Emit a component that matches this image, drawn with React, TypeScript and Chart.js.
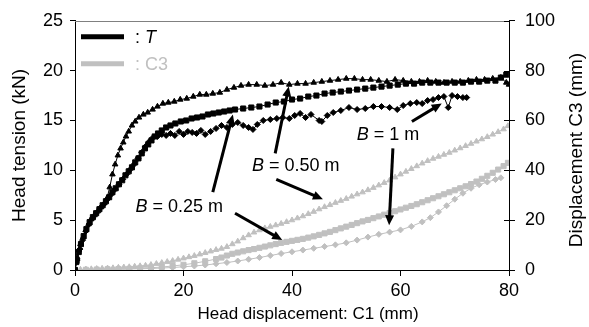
import React, { useEffect, useRef } from "react";
import { Chart, registerables } from "chart.js";

Chart.register(...registerables);

// ---------- data (x = head displacement C1 in mm) ----------
// Head tension T (kN), left axis
const T_B025: [number, number][] = [
  [0, 0], [0.3, 0.9], [0.7, 1.8], [1.1, 2.6], [1.6, 3.4], [2.1, 4.1], [2.7, 4.8], [3.3, 5.3], [3.9, 5.7], [4.5, 6.1],
  [5.1, 6.5], [5.7, 6.9], [6.3, 7.3], [6.9, 7.8], [7.5, 8.2], [8.1, 8.6], [8.7, 9.0], [9.3, 9.5], [9.9, 9.9], [10.5, 10.3],
  [11.1, 10.8], [11.7, 11.2], [12.3, 11.7], [12.9, 12.2], [13.5, 12.6], [14.1, 13.0], [14.7, 13.4], [15.3, 13.7], [16.0, 14.0],
  [16.8, 14.3], [17.6, 14.5], [18.5, 14.7], [19.5, 14.9], [20.5, 15.0], [21.5, 15.2], [22.5, 15.3], [23.5, 15.4], [24.5, 15.6],
  [25.5, 15.7], [26.5, 15.8], [27.5, 15.9], [28.5, 16.0], [29.5, 16.1], [31, 16.2], [32.5, 16.3], [34, 16.4], [35.5, 16.6],
  [37, 16.8], [38.5, 16.9], [40, 17.1], [41.5, 17.2], [43, 17.4], [44.5, 17.5], [46, 17.7], [47.5, 17.8], [49, 17.9],
  [50.5, 18.0], [52, 18.1], [53.5, 18.2], [55, 18.3], [56.5, 18.4], [58, 18.5], [59.5, 18.6], [61, 18.7], [62.5, 18.7],
  [64, 18.8], [65.5, 18.8], [67, 18.8], [68.5, 18.8], [70, 18.8], [71.5, 18.8], [73, 18.9], [74.5, 18.9], [76, 19.0],
  [77.5, 19.0], [78.5, 19.3], [79.5, 19.6],
];
const T_B050: [number, number][] = [
  [0, 0], [0.2, 0.7], [0.4, 1.3], [0.7, 2.0], [1.0, 2.6], [1.5, 3.3], [2.0, 4.0], [2.5, 4.6], [3.0, 5.1], [3.6, 5.5],
  [4.2, 5.9], [4.8, 6.3], [5.4, 6.7], [5.9, 7.2], [6.4, 8.3], [6.9, 9.6], [7.4, 10.6], [7.9, 11.5], [8.4, 12.2], [8.9, 12.8],
  [9.4, 13.4], [9.9, 13.9], [10.5, 14.5], [11.1, 14.9], [11.8, 15.3], [12.6, 15.6], [13.4, 15.8], [14.3, 16.1], [15.2, 16.4],
  [16.2, 16.7], [17.2, 16.8], [18.3, 16.9], [19.4, 17.1], [20.6, 17.2], [21.8, 17.4], [23.0, 17.6], [24.2, 17.6], [25.4, 17.7],
  [26.7, 17.8], [28.0, 18.1], [29.3, 18.3], [30.6, 18.5], [32, 18.6], [33.5, 18.6], [35, 18.5], [36.5, 18.6], [38, 18.8],
  [39.5, 18.6], [41, 18.7], [42.5, 18.7], [44, 18.8], [45.5, 18.9], [47, 19.0], [48.5, 19.1], [50, 19.2], [51.5, 19.2],
  [53, 19.1], [54.5, 19.1], [56, 19.0], [57.5, 18.9], [59, 19.1], [60.5, 19.0], [62, 18.9], [63.5, 18.9], [65, 19.0],
  [66.5, 18.9], [68, 18.8], [69.5, 18.9], [71, 18.9], [72.5, 19.0], [74, 19.1], [75.5, 19.1], [77, 19.2], [78.5, 19.3],
  [79.5, 18.8], [80, 18.6],
];
const T_B100: [number, number][] = [
  [0, 0], [0.4, 1.0], [0.9, 2.1], [1.4, 3.0], [2.0, 3.9], [2.6, 4.6], [3.2, 5.2], [3.9, 5.7], [4.6, 6.2], [5.3, 6.6],
  [6.0, 7.1], [6.7, 7.6], [7.4, 8.1], [8.1, 8.6], [8.8, 9.1], [9.5, 9.6], [10.2, 10.1], [10.9, 10.6], [11.6, 11.2],
  [12.3, 11.8], [13.0, 12.4], [13.7, 12.9], [14.4, 13.3], [15.2, 13.4], [16.0, 13.6], [16.8, 13.5], [17.6, 13.7],
  [18.4, 13.5], [19.2, 13.9], [20.0, 13.6], [20.8, 13.9], [21.6, 13.8], [22.4, 13.7], [23.2, 14.0], [24.0, 13.6],
  [25.0, 13.9], [26.0, 14.2], [27.0, 14.5], [28.0, 14.3], [29.0, 14.6], [30.0, 14.8], [31.0, 14.5], [32.0, 14.3],
  [32.8, 14.1], [33.6, 14.6], [34.7, 15.0], [36.0, 15.1], [37.2, 15.2], [38.3, 15.3], [39.5, 15.2], [40.5, 15.5],
  [41.5, 15.7], [42.5, 15.3], [43.5, 15.6], [45.0, 15.0], [45.5, 14.9], [46.5, 15.5], [47.6, 15.8], [49, 16.0],
  [50.5, 16.3], [52, 16.1], [53.5, 16.2], [55, 16.4], [56.5, 16.4], [58, 16.3], [59.4, 16.1], [60.5, 16.5], [61.8, 16.7],
  [63, 16.8], [64, 16.7], [65, 17.0], [66, 17.1], [67, 17.3], [68, 17.4], [68.8, 16.3], [69.5, 17.5], [70.5, 17.4],
  [71.5, 17.3], [72.2, 17.3],
];
// Displacement C3 (mm), right axis
const C3_B025: [number, number][] = [
  [0, 0], [2, 0.1], [4, 0.2], [6, 0.3], [8, 0.4], [10, 0.5], [12, 0.7], [14, 0.9], [16, 1.2], [18, 1.6], [20, 2.1],
  [22, 2.7], [24, 3.5], [26, 4.4], [27, 5.0], [28, 5.8], [29, 6.5], [30, 7.0], [31, 7.5], [32, 8.0], [33, 8.4], [34, 8.9],
  [35, 9.4], [36, 9.9], [37, 10.4], [38, 10.9], [39, 11.3], [40, 11.7], [41, 12.1], [42, 12.5], [43, 13.0], [44, 13.5],
  [45, 14.1], [46, 14.7], [47, 15.3], [48, 16.0], [49, 16.7], [50, 17.4], [51, 18.1], [52, 18.8], [53, 19.5], [54, 20.1],
  [55, 20.8], [56, 21.5], [57, 22.2], [58, 22.9], [59, 23.6], [60, 24.3], [61, 25.0], [62, 25.7], [63, 26.4], [64, 27.2],
  [65, 28.0], [66, 28.8], [67, 29.6], [68, 30.4], [69, 31.2], [70, 32.0], [71, 32.8], [72, 33.6], [73, 34.5], [74, 35.5],
  [75, 36.6], [76, 37.8], [77, 39.0], [78, 40.3], [79, 41.7], [79.8, 43.0],
];
const C3_B050: [number, number][] = [
  [0, 0], [1, 0.2], [2, 0.3], [3, 0.4], [4, 0.5], [5, 0.6], [6, 0.7], [7, 0.8], [8, 1.0], [9, 1.1], [10, 1.2], [11, 1.4],
  [12, 1.6], [13, 1.8], [14, 2.1], [15, 2.5], [16, 2.9], [17, 3.3], [18, 3.7], [19, 4.2], [20, 4.7], [21, 5.2], [22, 5.7],
  [23, 6.3], [24, 6.9], [25, 7.5], [26, 8.1], [27, 8.6], [28, 9.3], [29, 10.4], [30, 11.5], [31, 12.8], [32, 14.0],
  [33, 15.1], [34, 16.0], [35, 16.8], [36, 17.4], [37, 18.0], [38, 18.6], [39, 19.3], [40, 20.0], [41, 20.8], [42, 21.6],
  [43, 22.5], [44, 23.4], [45, 24.4], [46, 25.3], [47, 26.1], [48, 27.0], [49, 27.8], [50, 28.6], [51, 29.5], [52, 30.4],
  [53, 31.2], [54, 32.1], [55, 33.0], [56, 34.0], [57, 35.0], [58, 36.0], [59, 37.2], [60, 38.4], [61, 39.5], [62, 40.6],
  [63, 41.7], [64, 42.8], [65, 43.8], [66, 44.7], [67, 45.5], [68, 46.3], [69, 47.1], [70, 48.0], [71, 48.9], [72, 49.8],
  [73, 50.7], [74, 51.6], [75, 52.5], [76, 53.4], [77, 54.4], [78, 55.4], [79, 56.5], [79.8, 57.8],
];
const C3_B100: [number, number][] = [
  [0, 0], [2, 0.1], [4, 0.1], [6, 0.2], [8, 0.3], [10, 0.4], [12, 0.5], [14, 0.6], [16, 0.8], [18, 1.0], [20, 1.3],
  [22, 1.6], [24, 2.0], [26, 2.5], [28, 3.0], [30, 3.6], [32, 4.3], [34, 5.0], [36, 5.8], [38, 6.6], [40, 7.3], [42, 8.0],
  [44, 8.7], [46, 9.4], [48, 10.1], [50, 10.9], [52, 12.0], [54, 13.2], [56, 14.3], [58, 15.2], [60, 16.1], [62, 17.5],
  [64, 19.3], [65.5, 21.0], [67, 23.3], [68.5, 25.8], [70, 28.4], [71.5, 30.8], [73, 32.8], [74.5, 34.2], [76, 35.3],
  [77.5, 36.3], [78.5, 37.0],
];

const X_TICKS = [0, 20, 40, 60, 80];
const LEFT_TICKS = [0, 5, 10, 15, 20, 25];
const RIGHT_TICKS = [0, 20, 40, 60, 80, 100];

const X_TITLE = "Head displacement: C1 (mm)";
const LEFT_TITLE = "Head tension (kN)";
const RIGHT_TITLE = "Displacement C3 (mm)";

// annotation labels: [label, x (mm), T (kN)]
const LABELS: [string, number, number][] = [
  [" = 0.25 m", 19.2, 6.3],
  [" = 0.50 m", 40.7, 10.4],
  [" = 1 m", 57.7, 13.5],
];
// arrows: [x1, T1, x2, T2, head]
const ARROWS: [number, number, number, number, boolean][] = [
  [25.4, 7.8, 29.1, 15.6, true],
  [29.5, 5.7, 38.2, 3.0, true],
  [36.9, 11.7, 39.4, 18.4, true],
  [37.1, 9.1, 45.7, 7.1, true],
  [62.1, 14.9, 67.6, 16.7, true],
  [58.6, 12.2, 57.9, 4.5, true],
];

const BLACK = "#000000";
const GRAY = "#c0c0c0";
const FONT = '"Liberation Sans", Arial, sans-serif';
const TICK_SIZE = 18;
const XTITLE_SIZE = 17;
const YTITLE_SIZE = 19;
const NOTE_SIZE = 18;

const toPts = (arr: [number, number][]) => arr.map(([x, y]) => ({ x, y }));

const decor = {
  id: "decor",
  afterDraw(chart: any) {
    const ctx = chart.ctx as CanvasRenderingContext2D;
    const ca = chart.chartArea;
    const xs = chart.scales.x;
    const ys = chart.scales.y;
    const y2 = chart.scales.y2;
    ctx.save();
    // top frame line
    ctx.strokeStyle = "#808080";
    ctx.lineWidth = 1;
    ctx.beginPath();
    ctx.moveTo(ca.left, Math.round(ca.top) + 0.5);
    ctx.lineTo(ca.right, Math.round(ca.top) + 0.5);
    ctx.stroke();
    // inner right ticks
    ctx.strokeStyle = BLACK;
    for (const v of RIGHT_TICKS) {
      const py = Math.round(y2.getPixelForValue(v)) + 0.5;
      ctx.beginPath();
      ctx.moveTo(ca.right - 5, py);
      ctx.lineTo(ca.right, py);
      ctx.stroke();
    }
    // axis titles
    ctx.fillStyle = BLACK;
    ctx.textAlign = "center";
    ctx.textBaseline = "middle";
    ctx.font = `${XTITLE_SIZE}px ${FONT}`;
    ctx.fillText(X_TITLE, 308, 314);
    ctx.font = `${YTITLE_SIZE}px ${FONT}`;
    ctx.save();
    ctx.translate(20, (ca.top + ca.bottom) / 2);
    ctx.rotate(-Math.PI / 2);
    ctx.fillText(LEFT_TITLE, 0, 0);
    ctx.restore();
    ctx.save();
    ctx.translate(577, 150);
    ctx.rotate(-Math.PI / 2);
    ctx.fillText(RIGHT_TITLE, 0, 0);
    ctx.restore();

    // legend
    const lx = ca.left + 6;
    ctx.lineWidth = 5;
    ctx.strokeStyle = BLACK;
    ctx.beginPath();
    ctx.moveTo(lx, ca.top + 16);
    ctx.lineTo(lx + 43, ca.top + 16);
    ctx.stroke();
    ctx.strokeStyle = GRAY;
    ctx.beginPath();
    ctx.moveTo(lx, ca.top + 43);
    ctx.lineTo(lx + 43, ca.top + 43);
    ctx.stroke();
    ctx.textAlign = "left";
    ctx.font = `${NOTE_SIZE}px ${FONT}`;
    ctx.fillStyle = BLACK;
    ctx.fillText(": ", lx + 54, ca.top + 17);
    const cw = ctx.measureText(": ").width;
    ctx.font = `italic ${NOTE_SIZE}px ${FONT}`;
    ctx.fillText("T", lx + 54 + cw, ca.top + 17);
    ctx.font = `${NOTE_SIZE}px ${FONT}`;
    ctx.fillStyle = GRAY;
    ctx.fillText(": C3", lx + 54, ca.top + 44);

    // annotation labels
    ctx.fillStyle = BLACK;
    for (const [txt, vx, vy] of LABELS) {
      const cx = xs.getPixelForValue(vx);
      const cy = ys.getPixelForValue(vy);
      ctx.font = `italic ${NOTE_SIZE}px ${FONT}`;
      const wb = ctx.measureText("B").width;
      ctx.font = `${NOTE_SIZE}px ${FONT}`;
      const wr = ctx.measureText(txt).width;
      const x0 = cx - (wb + wr) / 2;
      ctx.font = `italic ${NOTE_SIZE}px ${FONT}`;
      ctx.fillText("B", x0, cy);
      ctx.font = `${NOTE_SIZE}px ${FONT}`;
      ctx.fillText(txt, x0 + wb, cy);
    }
    // arrows
    ctx.strokeStyle = BLACK;
    ctx.lineWidth = 3;
    for (const [ax, ay, bx, by, head] of ARROWS) {
      const x1 = xs.getPixelForValue(ax), y1 = ys.getPixelForValue(ay);
      const x2 = xs.getPixelForValue(bx), y2p = ys.getPixelForValue(by);
      const ang = Math.atan2(y2p - y1, x2 - x1);
      const hl = head ? 10 : 0;
      ctx.beginPath();
      ctx.moveTo(x1, y1);
      ctx.lineTo(x2 - Math.cos(ang) * hl * 0.8, y2p - Math.sin(ang) * hl * 0.8);
      ctx.stroke();
      if (head) {
        ctx.beginPath();
        ctx.moveTo(x2, y2p);
        ctx.lineTo(x2 - Math.cos(ang) * hl + Math.sin(ang) * 4.5, y2p - Math.sin(ang) * hl - Math.cos(ang) * 4.5);
        ctx.lineTo(x2 - Math.cos(ang) * hl - Math.sin(ang) * 4.5, y2p - Math.sin(ang) * hl + Math.cos(ang) * 4.5);
        ctx.closePath();
        ctx.fill();
      }
    }
    ctx.restore();
  },
};

function series(label: string, data: [number, number][], color: string, style: string, radius: number, axis: string) {
  return {
    label,
    data: toPts(data),
    yAxisID: axis,
    borderColor: color,
    backgroundColor: color,
    borderWidth: 1,
    pointStyle: style,
    pointRadius: radius,
    pointBorderWidth: 1,
    pointBackgroundColor: color,
    pointBorderColor: color,
    tension: 0,
    showLine: true,
  };
}

export default function App() {
  const ref = useRef<HTMLCanvasElement | null>(null);
  useEffect(() => {
    document.body.style.margin = "0";
    const canvas = ref.current!;
    const tickFont = { family: FONT, size: TICK_SIZE };
    const chart = new Chart(canvas, {
      type: "scatter",
      data: {
        datasets: [
          series("T B=1", T_B100, BLACK, "rectRot", 3, "y"),
          series("T B=0.25", T_B025, BLACK, "rect", 3.6, "y"),
          series("T B=0.50", T_B050, BLACK, "triangle", 3.2, "y"),
          series("C3 B=1", C3_B100, GRAY, "rectRot", 3, "y2"),
          series("C3 B=0.25", C3_B025, GRAY, "rect", 3.6, "y2"),
          series("C3 B=0.50", C3_B050, GRAY, "triangle", 3.2, "y2"),
        ],
      },
      options: {
        responsive: false,
        animation: false,
        devicePixelRatio: 1,
        layout: { padding: { top: 20, left: 0, right: 0, bottom: 0 } },
        plugins: { legend: { display: false }, tooltip: { enabled: false } },
        scales: {
          x: {
            type: "linear",
            min: 0,
            max: 80,
            afterBuildTicks: (s: any) => { s.ticks = X_TICKS.map((v) => ({ value: v })); },
            afterFit: (s: any) => { s.height = 57; },
            ticks: { color: BLACK, font: tickFont, padding: 4, maxRotation: 0 },
            grid: { drawOnChartArea: false, tickLength: 6, color: BLACK },
            border: { color: BLACK, width: 1 },
          },
          y: {
            type: "linear",
            position: "left",
            min: 0,
            max: 25,
            afterBuildTicks: (s: any) => { s.ticks = LEFT_TICKS.map((v) => ({ value: v })); },
            afterFit: (s: any) => { s.width = 75; },
            ticks: { color: BLACK, font: tickFont, padding: 7 },
            grid: { drawOnChartArea: false, tickLength: 5, color: BLACK },
            border: { color: BLACK, width: 1 },
          },
          y2: {
            type: "linear",
            position: "right",
            min: 0,
            max: 100,
            afterBuildTicks: (s: any) => { s.ticks = RIGHT_TICKS.map((v) => ({ value: v })); },
            afterFit: (s: any) => { s.width = 80; },
            ticks: { color: BLACK, font: tickFont, padding: 10 },
            grid: { drawOnChartArea: false, tickLength: 6, color: BLACK },
            border: { color: BLACK, width: 1 },
          },
        },
      } as any,
      plugins: [decor],
    });
    return () => chart.destroy();
  }, []);
  return (
    <div style={{ position: "fixed", left: 0, top: 0, width: 589, height: 327, background: "#fff" }}>
      <canvas ref={ref} width={589} height={327} style={{ width: 589, height: 327, display: "block" }} />
    </div>
  );
}
